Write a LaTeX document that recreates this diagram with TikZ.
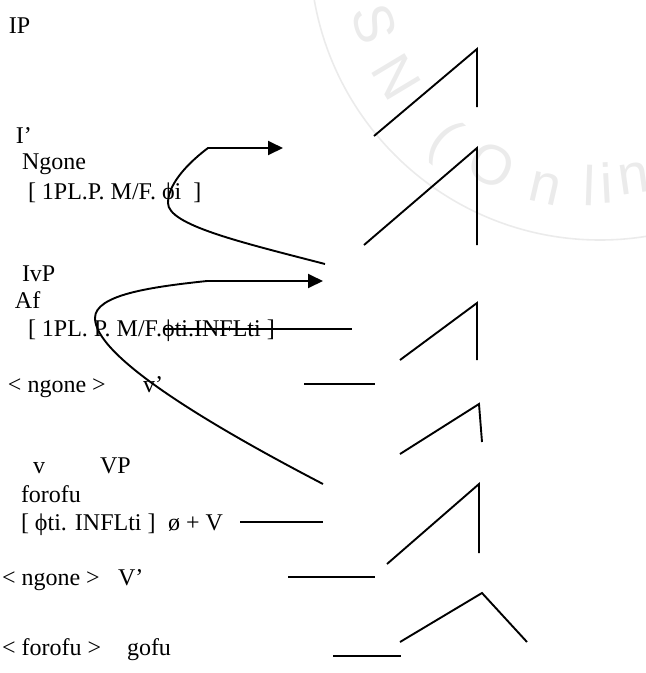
\documentclass[tikz,border=0pt]{standalone}
\usepackage{fontspec}
\setmainfont{Liberation Serif}
\newfontfamily\sealfont{Liberation Sans}
\usetikzlibrary{arrows.meta}
\begin{document}
\begin{tikzpicture}[x=1pt,y=-1pt,
  lbl/.style={anchor=base west,inner sep=0pt,outer sep=0pt,
    font=\fontsize{24}{27.6}\selectfont},
  branch/.style={line width=1.9pt,line join=miter},
  bar/.style={line width=1.9pt},
  mover/.style={line width=1.9pt,-{Triangle[length=15pt,width=14pt]}},
  seal/.style={black!8},
  sealchar/.style={seal,inner sep=0pt,font=\sealfont\fontsize{56}{56}\selectfont}]
\useasboundingbox (0,0) rectangle (646,673);

% faint seal in the upper right corner
\begin{scope}
  \clip (0,0) rectangle (646,673);
  \coordinate (sc) at (600,-50);
  \draw[seal,line width=1.6pt] (sc) circle[radius=290];
  \node[sealchar,rotate=-73] (s1) at (374,24)  {S};
  \node[sealchar,rotate=-59] (s2) at (396,77)  {N};
  \node[sealchar,rotate=-40] (s3) at (443,140) {(};
  \node[sealchar,rotate=-27] (s4) at (492,165) {O};
  \node[sealchar,rotate=-13] (s5) at (545,188) {n};
  \node[sealchar,rotate=-2]  (s6) at (589,185) {l};
  \node[sealchar,rotate=3]   (s7) at (607,183) {i};
  \node[sealchar,rotate=8]   (s8) at (634,178) {n};
\end{scope}

% labels of the tree, top to bottom
\node[lbl] (ip)    at (9,33)    {IP};
\node[lbl] (ibar)  at (16,143)  {I’};
\node[lbl] (ngone) at (22,169)  {Ngone};
\node[lbl] (feat1) at (28,199)  {[ 1PL.P. M/F. ϕi \ ]};
\node[lbl] (ivp)   at (22,281)  {IvP};
\node[lbl] (af)    at (15,308)  {Af};
\node[lbl] (feat2) at (28,336)  {[ 1PL. P. M/F.ϕti.INFLti ]};
\node[lbl] (tr1)   at (8,392)   {< ngone >};
\node[lbl] (vbar)  at (143,392) {v’};
\node[lbl] (vlow)  at (33,473)  {v};
\node[lbl] (vp)    at (100,473) {VP};
\node[lbl] (forofu) at (21,502) {forofu};
\node[lbl] (feat3) at (21,530)  {[ ϕti. INFLti ]};
\node[lbl] (zerov) at (168,530) {ø + V};
\node[lbl] (tr2)   at (2,585)   {< ngone >};
\node[lbl] (Vbar)  at (118,585) {V’};
\node[lbl] (tr3)   at (2,655)   {< forofu >};
\node[lbl] (gofu)  at (127,655) {gofu};

% branch points
\coordinate (a1) at (374,136); \coordinate (t1) at (477,49);  \coordinate (b1) at (477,107);
\coordinate (a2) at (364,245); \coordinate (t2) at (477,148); \coordinate (b2) at (477,245);
\coordinate (a3) at (400,360); \coordinate (t3) at (477,303); \coordinate (b3) at (477,360);
\coordinate (a4) at (400,454); \coordinate (t4) at (479,404); \coordinate (b4) at (482,442);
\coordinate (a5) at (387,564); \coordinate (t5) at (479,484); \coordinate (b5) at (479,553);
\coordinate (a6) at (400,642); \coordinate (t6) at (482,593); \coordinate (b6) at (527,642);

\draw[branch] (a1) -- (t1) -- (b1);
\draw[branch] (a2) -- (t2) -- (b2);
\draw[branch] (a3) -- (t3) -- (b3);
\draw[branch] (a4) -- (t4) -- (b4);
\draw[branch] (a5) -- (t5) -- (b5);
\draw[branch] (a6) -- (t6) -- (b6);

% horizontal strokes
\coordinate (h1l) at (163,329); \coordinate (h1r) at (352,329);
\coordinate (h2l) at (304,384); \coordinate (h2r) at (375,384);
\coordinate (h3l) at (240,522); \coordinate (h3r) at (323,522);
\coordinate (h4l) at (288,577); \coordinate (h4r) at (375,577);
\coordinate (h5l) at (333,656); \coordinate (h5r) at (401,656);
\draw[bar] (h1l) -- (h1r);
\draw[bar] (h2l) -- (h2r);
\draw[bar] (h3l) -- (h3r);
\draw[bar] (h4l) -- (h4r);
\draw[bar] (h5l) -- (h5r);

% movement arrows
\coordinate (m1s) at (325,264); \coordinate (m1k) at (208,148); \coordinate (m1e) at (283,148);
\coordinate (m2s) at (323,484); \coordinate (m2k) at (207,281); \coordinate (m2e) at (323,281);
\draw[mover] (m1s) .. controls (240,242) and (168,225) .. (168,203)
  .. controls (168,182) and (192,160) .. (m1k) -- (m1e);
\draw[mover] (m2s) .. controls (200,420) and (95,355) .. (95,318)
  .. controls (95,295) and (150,287) .. (m2k) -- (m2e);
\end{tikzpicture}
\end{document}
